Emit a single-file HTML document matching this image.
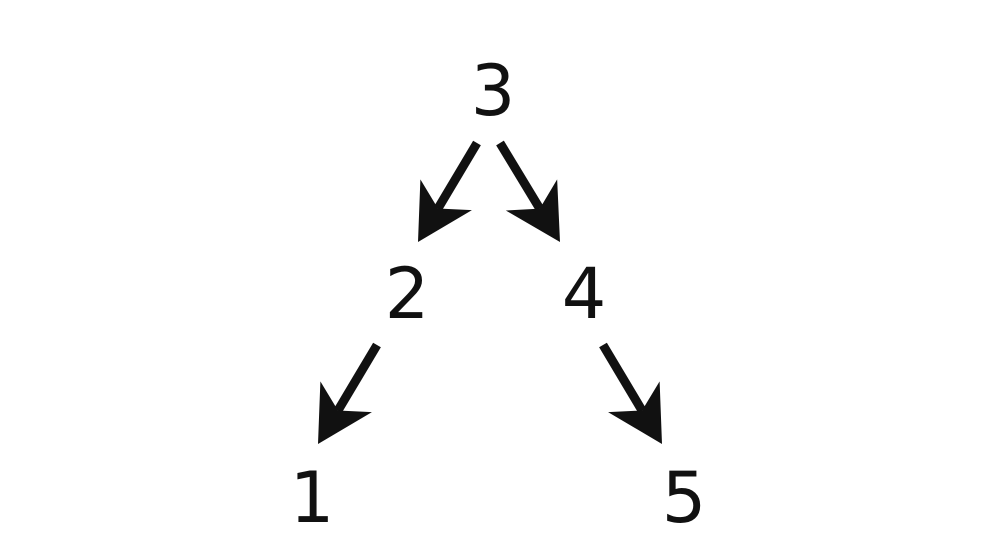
<!DOCTYPE html>
<html><head><meta charset="utf-8"><style>
html,body{margin:0;padding:0;background:#fff;width:986px;height:550px;overflow:hidden}
text{font-family:"DejaVu Sans","Liberation Sans",sans-serif;font-size:70px;fill:#111}
</style></head><body>
<svg id="tree" width="986" height="550" viewBox="0 0 986 550" xmlns="http://www.w3.org/2000/svg"></svg>
<script>
const nodeLabels = ["3","2","4","1","5"];
const nodeX = [493,407,584,312,684];
const nodeY = [115,318,318,522,522];
const edgeFrom = [[477,143],[500,143],[377,345],[603,345]];
const edgeTo = [[418,242],[560,242],[318,444],[662,444]];
const svg = document.getElementById('tree');
const NS = 'http://www.w3.org/2000/svg';
for (let i = 0; i < nodeLabels.length; i++) {
  const t = document.createElementNS(NS, 'text');
  t.setAttribute('x', nodeX[i]);
  t.setAttribute('y', nodeY[i]);
  t.setAttribute('text-anchor', 'middle');
  t.textContent = nodeLabels[i];
  
  
  svg.appendChild(t);
}
for (let i = 0; i < edgeFrom.length; i++) {
  const [x1, y1] = edgeFrom[i], [x2, y2] = edgeTo[i];
  const dx = x2 - x1, dy = y2 - y1, L = Math.hypot(dx, dy);
  const ux = dx / L, uy = dy / L, px = -uy, py = ux;
  const head = 55, half = 30, notch = 16;
  const g = document.createElementNS(NS, 'g');
  
  
  const line = document.createElementNS(NS, 'line');
  line.setAttribute('x1', x1); line.setAttribute('y1', y1);
  line.setAttribute('x2', x2 - ux * (head - notch)); line.setAttribute('y2', y2 - uy * (head - notch));
  line.setAttribute('stroke', '#111'); line.setAttribute('stroke-width', '9');
  
  
  g.appendChild(line);
  const bx = x2 - ux * head, by = y2 - uy * head;
  const nx = x2 - ux * (head - notch), ny = y2 - uy * (head - notch);
  const pts = [[x2, y2], [bx + px * half, by + py * half], [nx, ny], [bx - px * half, by - py * half]];
  const poly = document.createElementNS(NS, 'polygon');
  poly.setAttribute('points', pts.map(p => p.join(',')).join(' '));
  poly.setAttribute('fill', '#111');
  
  
  g.appendChild(poly);
  svg.appendChild(g);
}
</script>
</body></html>
